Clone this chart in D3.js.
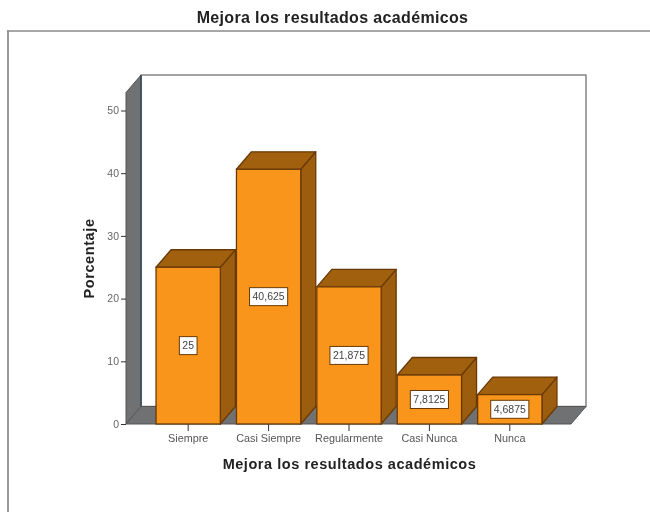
<!DOCTYPE html>
<html><head><meta charset="utf-8">
<script src="https://cdn.jsdelivr.net/npm/d3@7"></script>
<style>html,body{margin:0;padding:0;background:#fff}svg{display:block;filter:blur(0.45px)}text{font-family:"Liberation Sans",Arial,sans-serif}</style>
</head><body><svg id="c" width="650" height="512"></svg>
<script>
const chartTitle = "Mejora los resultados académicos";
const xTitle = "Mejora los resultados académicos";
const yTitle = "Porcentaje";
const categories = ["Siempre","Casi Siempre","Regularmente","Casi Nunca","Nunca"];
const values = [25,40.625,21.875,7.8125,4.6875];
const valueLabels = ["25","40,625","21,875","7,8125","4,6875"];
const yTicks = [0,10,20,30,40,50];

const dx = 15, dy = -17.5;
const svg = d3.select("#c");
const y = d3.scaleLinear().domain([0,50]).range([424,110.5]);
const x = d3.scaleBand().domain(categories).range([148,550]).paddingInner(0.2).paddingOuter(0.1);
const plotL = 126, plotR = 571, plotTop = 92.5;

svg.append("line").attr("x1",8).attr("x2",8).attr("y1",30.5).attr("y2",512).attr("stroke","#8f8f8f").attr("stroke-width",1.8);
svg.append("line").attr("x1",7).attr("x2",650).attr("y1",31).attr("y2",31).attr("stroke","#8a8a8a").attr("stroke-width",1.6);
svg.append("text").attr("x",332.5).attr("y",23).attr("text-anchor","middle")
  .attr("font-size",16).attr("font-weight","bold").attr("fill","#222").attr("letter-spacing",0.35).text(chartTitle);

const poly = (pts,fill,stroke,sw=1)=>svg.append("polygon").attr("points",pts.map(p=>p.join(",")).join(" "))
  .attr("fill",fill).attr("stroke",stroke).attr("stroke-width",sw).attr("stroke-linejoin","round");
const y0 = y(0);
poly([[plotL+dx,y0+dy],[plotR+dx,y0+dy],[plotR+dx,plotTop+dy],[plotL+dx,plotTop+dy]],"#fff","#858585",1.5);
poly([[plotL,y0],[plotL+dx,y0+dy],[plotL+dx,plotTop+dy],[plotL,plotTop]],"#6f7173","#555");
poly([[plotL,y0],[plotR,y0],[plotR+dx,y0+dy],[plotL+dx,y0+dy]],"#6f7173","#555");
svg.append("line").attr("x1",plotL+dx).attr("x2",plotL+dx).attr("y1",plotTop+dy).attr("y2",y0+dy).attr("stroke","#2f4a63").attr("stroke-width",1.3);

const gy = svg.append("g").attr("transform",`translate(${plotL},0)`)
  .call(d3.axisLeft(y).tickValues(yTicks).tickSize(5).tickPadding(2));
gy.select(".domain").remove();
gy.selectAll("line").attr("stroke","#333");
gy.selectAll("text").attr("font-size",10.5).attr("fill","#666");

const gx = svg.append("g").attr("transform",`translate(0,${y0})`)
  .call(d3.axisBottom(x).tickSize(7).tickPadding(3));
gx.select(".domain").remove();
gx.selectAll("line").attr("stroke","#333");
gx.selectAll("text").attr("font-size",10.8).attr("fill","#555");

const edge = "#6a3a06";
categories.forEach((c,i)=>{
  const l = x(c), r = l + x.bandwidth(), t = y(values[i]);
  poly([[r,y0],[r+dx,y0+dy],[r+dx,t+dy],[r,t]],"#9c5e0e",edge,1.3);
  poly([[l,t],[r,t],[r+dx,t+dy],[l+dx,t+dy]],"#a0600e",edge,1.3);
  svg.append("rect").attr("x",l).attr("y",t).attr("width",x.bandwidth()).attr("height",y0-t)
    .attr("fill","#f9951a").attr("stroke",edge).attr("stroke-width",1.3);
});

categories.forEach((c,i)=>{
  const cx = x(c)+x.bandwidth()/2, cy = (y(values[i])+y0)/2;
  const t = svg.append("text").attr("x",cx).attr("y",cy+3.8).attr("text-anchor","middle")
    .attr("font-size",10.5).attr("fill","#444").text(valueLabels[i]);
  const w = t.node().getComputedTextLength();
  svg.insert("rect",()=>t.node()).attr("x",cx-w/2-3).attr("y",cy-9).attr("width",w+6).attr("height",18)
    .attr("fill","#fff").attr("stroke",edge).attr("stroke-width",1);
});

svg.append("text").attr("x",349.5).attr("y",469).attr("text-anchor","middle")
  .attr("font-size",14.5).attr("font-weight","bold").attr("fill","#222").attr("letter-spacing",0.55).text(xTitle);
svg.append("text").attr("transform","translate(94,258.5) rotate(-90)").attr("text-anchor","middle")
  .attr("font-size",14.5).attr("font-weight","bold").attr("fill","#222").attr("letter-spacing",0.6).text(yTitle);
</script></body></html>
